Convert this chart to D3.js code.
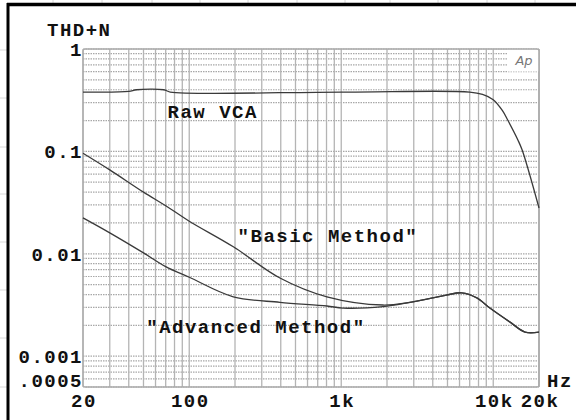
<!DOCTYPE html>
<html>
<head>
<meta charset="utf-8">
<script src="https://cdn.jsdelivr.net/npm/d3@7"></script>
<style>
  body { margin: 0; background: #fff; }
  svg text { font-family: "Liberation Mono", "DejaVu Sans Mono", monospace; font-weight: bold; fill: #111; letter-spacing: 1.5px; }
</style>
</head>
<body>
<svg id="chart" width="576" height="420"></svg>
<script>
// THD+N vs frequency, three curves
var rawFreq = [20, 40, 45, 68, 75, 1000, 7000, 8500, 10000, 11500, 12500, 14500, 15500, 20000];
var rawThd = [0.38, 0.385, 0.40, 0.40, 0.38, 0.38, 0.38, 0.36, 0.32, 0.25, 0.20, 0.13, 0.103, 0.028];

var basicFreq = [20, 30, 50, 70, 100, 195, 395, 805, 1880, 2830, 4000, 5000, 6200, 7800, 9500, 12900, 16200, 20000];
var basicThd = [0.096, 0.066, 0.040, 0.0295, 0.0208, 0.0117, 0.0058, 0.0038, 0.00316, 0.00336, 0.00371, 0.00397, 0.00416, 0.00371, 0.00295, 0.00215, 0.00172, 0.00172];

var advFreq = [20, 30, 50, 70, 100, 195, 395, 805, 1030, 1880, 2830, 4000, 5000, 6200, 7800, 9500, 12900, 16200, 20000];
var advThd = [0.0224, 0.016, 0.0102, 0.0075, 0.0059, 0.0038, 0.00336, 0.00309, 0.00295, 0.00305, 0.00336, 0.00371, 0.00397, 0.00416, 0.00371, 0.00295, 0.00215, 0.00172, 0.00172];

var xTicks = [20, 100, 1000, 10000, 20000];
var xTickLabels = ["20", "100", "1k", "10k", "20k"];
var yTicks = [1, 0.1, 0.01, 0.001, 0.0005];
var yTickLabels = ["1", "0.1", "0.01", "0.001", ".0005"];

(function () {
    var svg = d3.select("#chart");
    var margin = { top: 49, right: 37, bottom: 33, left: 83 };
    var width = +svg.attr("width") - margin.left - margin.right;
    var height = +svg.attr("height") - margin.top - margin.bottom;

    // outer frame of the screenshot, with faint sheet grid outside it
    var sheet = svg.append("g").attr("stroke", "#d8d8d8").attr("stroke-width", 1);
    [53, 102, 152, 200, 248, 297, 345, 390, 438, 487, 535].forEach(function (x) {
        sheet.append("line").attr("x1", x).attr("x2", x).attr("y1", 0).attr("y2", 3);
    });
    [50, 98, 147, 194, 242, 290, 338, 387].forEach(function (y) {
        sheet.append("line").attr("x1", 0).attr("x2", 7).attr("y1", y).attr("y2", y);
    });
    svg.append("line").attr("x1", 7).attr("x2", 576).attr("y1", 4.5).attr("y2", 4.5)
        .attr("stroke", "#000").attr("stroke-width", 3.5);
    svg.append("line").attr("x1", 8).attr("x2", 8).attr("y1", 3).attr("y2", 420)
        .attr("stroke", "#000").attr("stroke-width", 3);

    var g = svg.append("g")
        .attr("transform", "translate(" + margin.left + "," + margin.top + ")");

    var x = d3.scaleLog().domain([20, 20000]).range([0, width]);
    var y = d3.scaleLog().domain([0.0005, 1]).range([height, 0]);

    // grid values: 1-2-...-9 per decade
    var vGrid = [];
    [10, 100, 1000, 10000].forEach(function (d) {
        for (var k = 1; k <= 9; k++) {
            var v = d * k;
            if (v >= 20 && v <= 20000) vGrid.push(v);
        }
    });
    vGrid.push(20000);
    var hGrid = [];
    [0.0001, 0.001, 0.01, 0.1].forEach(function (d) {
        for (var k = 1; k <= 9; k++) {
            var v = d * k;
            if (v >= 0.0005 * 0.999 && v <= 1) hGrid.push(v);
        }
    });
    hGrid.push(1);

    g.selectAll(".hgrid")
        .data(hGrid)
        .enter().append("line")
        .attr("class", "hgrid")
        .attr("x1", 0).attr("x2", width)
        .attr("y1", function (d) { return y(d); })
        .attr("y2", function (d) { return y(d); })
        .attr("stroke", "#a8a8a8")
        .attr("stroke-width", 1.2)
        .attr("stroke-dasharray", "1.5,1");

    g.selectAll(".vgrid")
        .data(vGrid)
        .enter().append("line")
        .attr("class", "vgrid")
        .attr("x1", function (d) { return x(d); })
        .attr("x2", function (d) { return x(d); })
        .attr("y1", 0).attr("y2", height)
        .attr("stroke", "#b4b4b4")
        .attr("stroke-width", 1.3);

    // Ap logo box
    g.append("rect").attr("x", width - 32).attr("y", 0.5).attr("width", 31.5).attr("height", 22)
        .attr("fill", "#fff");
    g.append("text").attr("x", width - 15).attr("y", 16)
        .attr("text-anchor", "middle")
        .style("font-family", "'DejaVu Sans', sans-serif")
        .style("font-weight", "normal")
        .style("font-style", "italic")
        .style("letter-spacing", "0px")
        .style("font-size", "13px")
        .style("fill", "#777")
        .text("Ap");

    g.append("rect").attr("x", 0).attr("y", 0).attr("width", width).attr("height", height)
        .attr("rx", 2)
        .attr("fill", "none").attr("stroke", "#aaa").attr("stroke-width", 1.3);

    var line = d3.line()
        .x(function (d) { return x(d[0]); })
        .y(function (d) { return y(d[1]); })
        .curve(d3.curveCatmullRom.alpha(0.5));

    var series = [
        d3.zip(rawFreq, rawThd),
        d3.zip(basicFreq, basicThd),
        d3.zip(advFreq, advThd)
    ];
    g.selectAll(".curve")
        .data(series)
        .enter().append("path")
        .attr("class", "curve")
        .attr("d", line)
        .attr("fill", "none")
        .attr("stroke", "#3a3a3a")
        .attr("stroke-width", 1.3);

    // axis labels
    var fs = "19px";
    g.selectAll(".xlab")
        .data(xTicks)
        .enter().append("text")
        .attr("class", "xlab")
        .attr("x", function (d) { return x(d) + 1; })
        .attr("y", height + 20)
        .attr("text-anchor", "middle")
        .style("font-size", fs)
        .text(function (d, i) { return xTickLabels[i]; });

    g.selectAll(".ylab")
        .data(yTicks)
        .enter().append("text")
        .attr("class", "ylab")
        .attr("x", 0)
        .attr("y", function (d, i) { return y(d) + (i === 4 ? 0 : 7); })
        .attr("text-anchor", "end")
        .style("font-size", fs)
        .text(function (d, i) { return yTickLabels[i]; });

    g.append("text").attr("x", -36).attr("y", -13).style("font-size", fs)
        .attr("text-anchor", "start").text("THD+N");
    g.append("text").attr("x", width + 8).attr("y", 0 + height).style("font-size", fs)
        .text("Hz");

    // curve annotations
    g.append("text").attr("x", x(72)).attr("y", y(0.21)).style("font-size", fs).text("Raw VCA");
    g.append("text").attr("x", x(208)).attr("y", y(0.0129)).style("font-size", fs).text("\"Basic Method\"");
    g.append("text").attr("x", x(100) - 43).attr("y", y(0.00168)).style("font-size", fs).text("\"Advanced Method\"");
})();
</script>
</body>
</html>
